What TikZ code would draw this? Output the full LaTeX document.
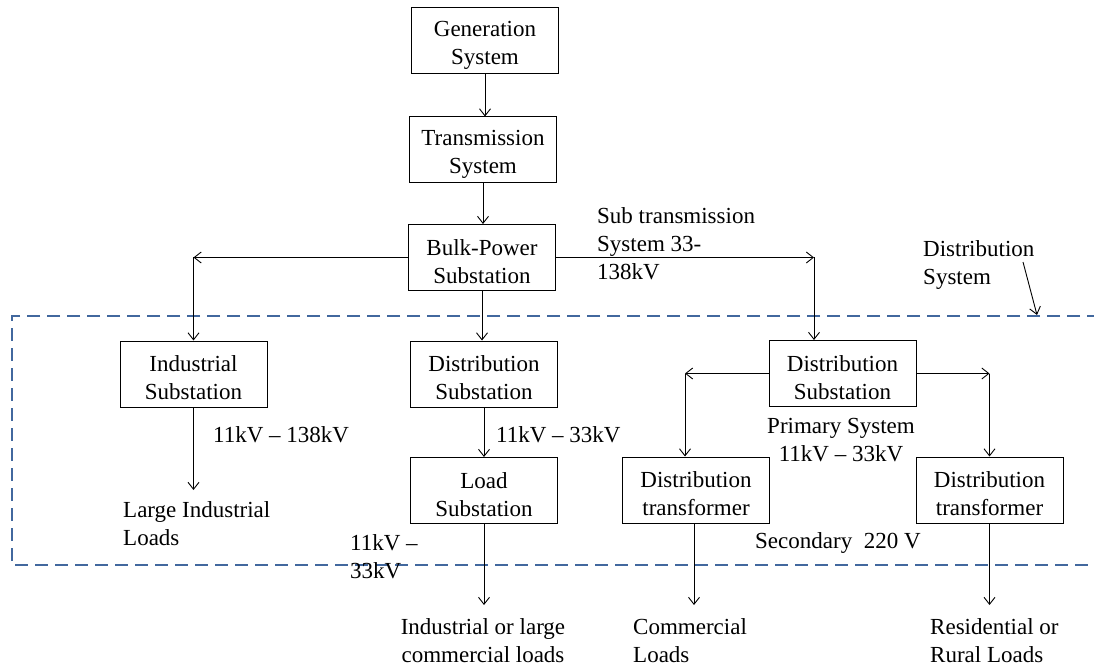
\documentclass[tikz,border=0pt]{standalone}
\usepackage{fontspec}
\setmainfont{Liberation Serif}
\usetikzlibrary{arrows.meta}
\definecolor{fenceblue}{RGB}{66,104,158}
% a tall invisible rule on the first line sets the text a little low in its box
\newcommand\boxtop{\rule{0pt}{24pt}}
\begin{document}
\begin{tikzpicture}[x=1pt,y=-1pt,
  every node/.style={font=\fontsize{23}{28}\selectfont},
  box/.style={draw, line width=1pt, minimum width=147pt, minimum height=66pt,
              align=center, inner sep=0pt},
  lbl/.style={inner sep=0pt},
  arr/.style={line width=0.9pt, -{Straight Barb[length=7pt,width=11pt]}},
  fence/.style={draw=fenceblue, line width=2.2pt, dash pattern=on 13pt off 7pt}]
\useasboundingbox (0,0) rectangle (1094,668);

% distribution-system boundary (open to the right)
\draw[fence] (1100,316) -- (12,316) -- (12,565) -- (1100,565);

% blocks
\node[box] (gen)   at (485,40.5)   {\boxtop Generation\\System};
\node[box] (trans) at (483,150)    {\boxtop Transmission\\System};
\node[box] (bulk)  at (482,257.5)  {\boxtop Bulk-Power\\Substation};
\node[box] (ind)   at (193.5,374)  {\boxtop Industrial\\Substation};
\node[box] (dsm)   at (484,374)    {\boxtop Distribution\\Substation};
\node[box] (load)  at (484,490.5)  {\boxtop Load\\Substation};
\node[box] (dsr)   at (842.5,373.5){\boxtop Distribution\\Substation};
\node[box] (dtl)   at (696,490)    {\boxtop Distribution\\transformer};
\node[box] (dtr)   at (989.5,490)  {\boxtop Distribution\\transformer};

% labels
\node[lbl, anchor=west, align=left] (subtx) at (597,244) {Sub transmission\\System 33-\\138kV};
\node[lbl, anchor=west, align=left] (dsys) at (923,265) {Distribution\\System};
\node[lbl, anchor=west] (v1) at (213,435) {11kV – 138kV};
\node[lbl, anchor=west, align=left] (lil) at (123,524) {Large Industrial\\Loads};
\node[lbl, anchor=west] (v2) at (496,435) {11kV – 33kV};
\node[lbl, anchor=west, align=left] (v3) at (350,557) {11kV –\\33kV};
\node[lbl, align=center] (icl) at (483,641) {Industrial or large\\commercial loads};
\node[lbl, align=center] (prim) at (841,440) {Primary System\\11kV – 33kV};
\node[lbl, anchor=west] (sec) at (755,543) {Secondary\ \ 220 V};
\node[lbl, anchor=west, align=left] (coml) at (633,641) {Commercial\\Loads};
\node[lbl, anchor=west, align=left] (resl) at (930,641) {Residential or\\Rural Loads};

% junction points and free ends
\coordinate (jl) at (193.5,257.5);
\coordinate (jr) at (814,257.5);
\coordinate (kl) at (685,373.5);
\coordinate (kr) at (989.5,373.5);
\coordinate (endind) at (193.5,490);
\coordinate (endload) at (484,605);
\coordinate (enddtl) at (694,605);
\coordinate (enddtr) at (989.5,605);
\coordinate (ptail) at (1023,262);
\coordinate (ptip) at (1037,315);

% connectors
\draw[arr] (gen.south) -- (gen.south |- trans.north);
\draw[arr] (trans.south) -- (trans.south |- bulk.north);
\draw[arr] (bulk.west) -- (jl);
\draw[arr] (jl) -- (ind.north);
\draw[arr] (bulk.east) -- (jr);
\draw[arr] (jr) -- (jr |- dsr.north);
\draw[arr] (bulk.south) -- (bulk.south |- dsm.north);
\draw[arr] (dsm.south) -- (load.north);
\draw[arr] (ind.south) -- (endind);
\draw[arr] (load.south) -- (endload);
\draw[arr] (dsr.west) -- (kl);
\draw[arr] (kl) -- (kl |- dtl.north);
\draw[arr] (dsr.east) -- (kr);
\draw[arr] (kr) -- (dtr.north);
\draw[arr] (dtl.south -| enddtl) -- (enddtl);
\draw[arr] (dtr.south) -- (enddtr);
\draw[arr] (ptail) -- (ptip);
\end{tikzpicture}
\end{document}
